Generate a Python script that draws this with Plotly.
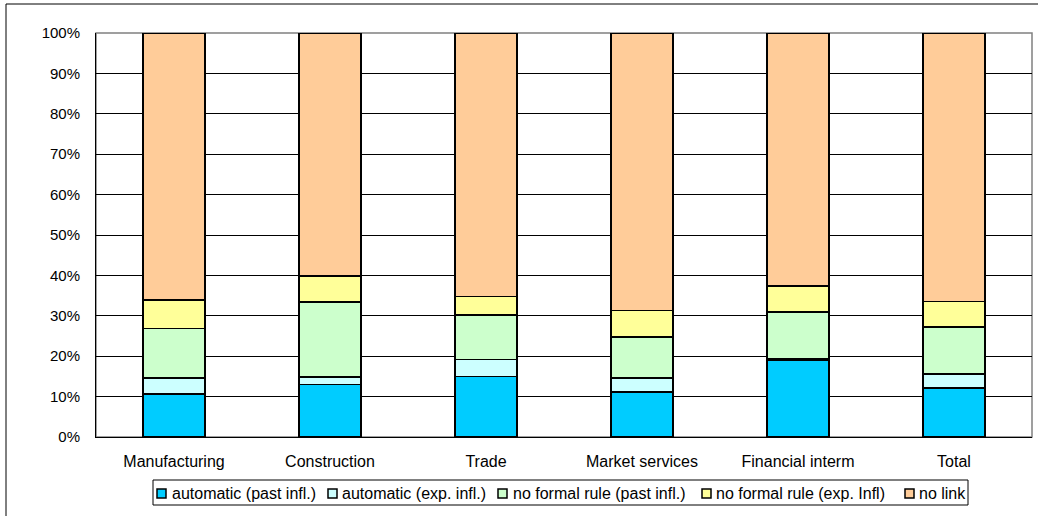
import plotly.graph_objects as go

# Sectors and share of firms (%) by wage-indexation mechanism
categories = ["Manufacturing", "Construction", "Trade", "Market services", "Financial interm", "Total"]

automatic_past = [10.7, 13.0, 15.0, 11.1, 19.0, 12.1]
automatic_exp = [3.9, 1.9, 4.2, 3.5, 0.4, 3.5]
no_rule_past = [12.3, 18.5, 11.0, 10.1, 11.6, 11.6]
no_rule_exp = [7.0, 6.4, 4.6, 6.6, 6.4, 6.4]
no_link = [66.1, 60.2, 65.2, 68.7, 62.6, 66.4]

series_names = [
    "automatic (past infl.)",
    "automatic (exp. infl.)",
    "no formal rule (past infl.)",
    "no formal rule (exp. Infl)",
    "no link",
]
series_values = [automatic_past, automatic_exp, no_rule_past, no_rule_exp, no_link]
series_colors = ["#00CCFF", "#CCFFFF", "#CCFFCC", "#FFFF99", "#FFCC99"]

y_ticks = list(range(0, 101, 10))
y_tick_labels = [f"{v}%" for v in y_ticks]

FONT = "Arial, Liberation Sans, sans-serif"
W, H = 1038, 516
M_L, M_R, M_T, M_B = 96, 6, 33, 79
PW, PH = W - M_L - M_R, H - M_T - M_B


def px_x(x):
    """Pixel column -> paper x."""
    return (x - M_L) / PW


def px_y(y):
    """Pixel row -> paper y."""
    return (H - M_B - y) / PH


fig = go.Figure()
for name, values, color in zip(series_names, series_values, series_colors):
    fig.add_trace(go.Bar(
        x=categories,
        y=values,
        name=name,
        marker=dict(color=color, line=dict(color="black", width=1.5)),
        showlegend=False,
    ))

shapes = [
    # grey plot-area frame
    dict(type="rect", xref="paper", yref="paper", x0=0, x1=1, y0=0, y1=1,
         line=dict(color="#808080", width=1.5), layer="below"),
    # outer chart frame
    dict(type="rect", xref="paper", yref="paper",
         x0=px_x(6), x1=px_x(1050), y0=px_y(530), y1=px_y(4),
         line=dict(color="black", width=1)),
    # legend box
    dict(type="rect", xref="paper", yref="paper",
         x0=px_x(153), x1=px_x(968), y0=px_y(505), y1=px_y(480),
         line=dict(color="black", width=1), fillcolor="white"),
]
annotations = []

# legend entries: swatch left edge and text start (pixels)
swatch_left = [157, 328, 498, 702, 905]
text_left = [170, 340, 511, 714, 917]
for name, color, sx, tx in zip(series_names, series_colors, swatch_left, text_left):
    shapes.append(dict(
        type="rect", xref="paper", yref="paper",
        x0=px_x(sx), x1=px_x(sx + 9), y0=px_y(498), y1=px_y(489),
        line=dict(color="black", width=1.5), fillcolor=color,
    ))
    annotations.append(dict(
        xref="paper", yref="paper", x=px_x(tx), y=px_y(493),
        xanchor="left", yanchor="middle", text=name, showarrow=False,
        font=dict(family=FONT, size=16, color="black"),
    ))

fig.update_layout(
    barmode="stack",
    bargap=0.6,
    width=W,
    height=H,
    margin=dict(l=M_L, r=M_R, t=M_T, b=M_B),
    paper_bgcolor="white",
    plot_bgcolor="white",
    font=dict(family=FONT, size=16, color="black"),
    showlegend=False,
    xaxis=dict(
        showgrid=False,
        showline=True,
        linecolor="black",
        linewidth=1,
        ticks="",
        ticklabelstandoff=10,
        tickfont=dict(size=16),
    ),
    yaxis=dict(
        range=[0, 100],
        tickvals=y_ticks,
        ticktext=y_tick_labels,
        showgrid=True,
        gridcolor="black",
        gridwidth=1,
        showline=True,
        linecolor="black",
        linewidth=1,
        ticks="",
        ticklabelstandoff=12,
        zeroline=False,
        tickfont=dict(size=15),
    ),
    shapes=shapes,
    annotations=annotations,
)

fig.write_html("out.html")
